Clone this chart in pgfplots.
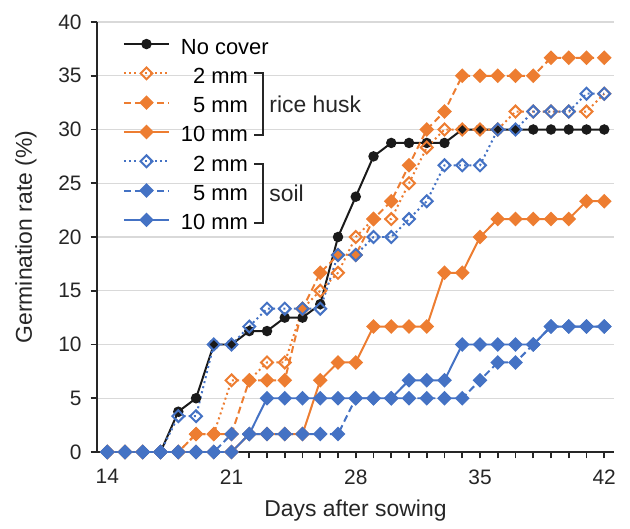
\documentclass[border=0pt]{standalone}
\usepackage{fontspec}
\setmainfont{Liberation Sans}
\usepackage{pgfplots}
\usepackage{pgfplotstable}
\pgfplotsset{compat=1.18}
\usetikzlibrary{calc}
\definecolor{husk}{HTML}{ED7D31}
\definecolor{soil}{HTML}{4472C4}
\definecolor{nocov}{HTML}{1A1A1A}
\definecolor{axisgray}{HTML}{262626}
\definecolor{gridgray}{HTML}{D9D9D9}

% germination rate (%) by day after sowing
\pgfplotstableread{
day nocover rh2   rh5   rh10  s2    s5    s10
14  0      0     0     0     0     0     0
15  0      0     0     0     0     0     0
16  0      0     0     0     0     0     0
17  0      0     0     0     0     0     0
18  3.75   0     0     0     3.33  0     0
19  5      1.67  1.67  0     3.33  0     0
20  10     1.67  1.67  0     10    0     0
21  10     6.67  1.67  0     10    1.67  0
22  11.25  6.67  6.67  1.67  11.67 1.67  1.67
23  11.25  8.33  6.67  1.67  13.33 1.67  5
24  12.5   8.33  6.67  1.67  13.33 1.67  5
25  12.5   13.33 13.33 1.67  13.33 1.67  5
26  13.75  15    16.67 6.67  13.33 1.67  5
27  20     16.67 18.33 8.33  18.33 1.67  5
28  23.75  20    18.33 8.33  18.33 5     5
29  27.5   21.67 21.67 11.67 20    5     5
30  28.75  21.67 23.33 11.67 20    5     5
31  28.75  25    26.67 11.67 21.67 5     6.67
32  28.75  28.33 30    11.67 23.33 5     6.67
33  28.75  30    31.67 16.67 26.67 5     6.67
34  30     30    35    16.67 26.67 5     10
35  30     30    35    20    26.67 6.67  10
36  30     30    35    21.67 30    8.33  10
37  30     31.67 35    21.67 30    8.33  10
38  30     31.67 35    21.67 31.67 10    10
39  30     31.67 36.67 21.67 31.67 11.67 11.67
40  30     31.67 36.67 21.67 31.67 11.67 11.67
41  30     31.67 36.67 23.33 33.33 11.67 11.67
42  30     33.33 36.67 23.33 33.33 11.67 11.67
}\germ

\begin{document}
\begin{tikzpicture}
\begin{axis}[
    scale only axis,
    width=258.5bp,
    height=215bp,
    xmin=13.42, xmax=42.55,
    ymin=0, ymax=40,
    axis x line=bottom,
    axis y line=left,
    axis line style={axisgray, line width=1pt, -},
    xtick={14,21,28,35,42},
    minor xtick={15,...,41},
    ytick={0,5,...,40},
    tick align=outside,
    major tick length=3.2bp,
    minor tick length=3.2bp,
    tick style={axisgray, line width=0.8pt},
    ymajorgrids=true,
    grid style={gridgray, line width=0.7pt},
    tick label style={font=\fontsize{10.5}{12}\selectfont, text=axisgray},
    /pgf/number format/assume math mode=true,
    xticklabel style={yshift=-2bp},
    yticklabel style={xshift=-1bp},
    xlabel={Days after sowing},
    ylabel={Germination rate (\%)},
    label style={font=\fontsize{11.5}{13}\selectfont, text=axisgray},
    xlabel style={at={($(rel axis cs:0.5,0)+(0bp,-29.5bp)$)}, anchor=center},
    ylabel style={at={($(rel axis cs:0,0.5)+(-35.5bp,0bp)$)}, anchor=center},
    clip=false,
    every axis plot/.append style={line width=1pt},
    legend cell align=left,
    legend style={draw=none, fill=none, inner sep=0pt, outer sep=0pt,
        at={(axis cs:14.885,38.6)}, anchor=north west,
        font=\fontsize{11}{13}\selectfont,
        row sep=3.65bp, column sep=5.5bp,
        nodes={inner sep=0pt, text height=8.5bp, text depth=2.5bp}},
    legend image code/.code={
        \path[draw=none, fill=none] (0bp,-5.5bp) rectangle (22.5bp,5.5bp);
        \draw[mark repeat=2,mark phase=2] plot coordinates {(0bp,2bp) (11.25bp,2bp) (22.5bp,2bp)};
    },
]
\addplot[nocov, solid, mark=*, mark size=2.1pt] table[x=day, y=nocover] {\germ};
\addplot[husk, dash pattern=on 1pt off 1.6pt, mark=square, mark size=2.1pt,
    mark options={rotate=45, solid, fill=white}] table[x=day, y=rh2] {\germ};
\addplot[husk, dash pattern=on 3.5pt off 2pt, mark=square*, mark size=2.1pt,
    mark options={rotate=45, solid, fill=husk}] table[x=day, y=rh5] {\germ};
\addplot[husk, solid, mark=square*, mark size=2.1pt,
    mark options={rotate=45, solid, fill=husk}] table[x=day, y=rh10] {\germ};
\addplot[soil, dash pattern=on 1pt off 1.6pt, mark=square, mark size=2.1pt,
    mark options={rotate=45, solid, fill=white}] table[x=day, y=s2] {\germ};
\addplot[soil, dash pattern=on 3.5pt off 2pt, mark=square*, mark size=2.1pt,
    mark options={rotate=45, solid, fill=soil}] table[x=day, y=s5] {\germ};
\addplot[soil, solid, mark=square*, mark size=2.1pt,
    mark options={rotate=45, solid, fill=soil}] table[x=day, y=s10] {\germ};
\legend{No cover, \hphantom{1}2 mm, \hphantom{1}5 mm, 10 mm, \hphantom{1}2 mm, \hphantom{1}5 mm, 10 mm}

% brackets grouping the legend entries
\draw[axisgray, line width=1pt] (axis cs:22.27,35.23) -- (axis cs:22.75,35.23)
    -- (axis cs:22.75,29.49) -- (axis cs:22.27,29.49);
\draw[axisgray, line width=1pt] (axis cs:22.27,26.79) -- (axis cs:22.75,26.79)
    -- (axis cs:22.75,21.30) -- (axis cs:22.27,21.30);
\node[anchor=west, inner sep=0pt, text=axisgray, font=\fontsize{11.5}{13}\selectfont]
    at (axis cs:23.11,32.37) {rice husk};
\node[anchor=west, inner sep=0pt, text=axisgray, font=\fontsize{11.5}{13}\selectfont]
    at (axis cs:23.11,24.09) {soil};

% white margin as in the original figure
\path ($(rel axis cs:0,1)+(0bp,11bp)$) ($(rel axis cs:1,0)+(8bp,-36bp)$) ($(rel axis cs:0,0)+(-48.5bp,0bp)$);
\end{axis}
\end{tikzpicture}
\end{document}
